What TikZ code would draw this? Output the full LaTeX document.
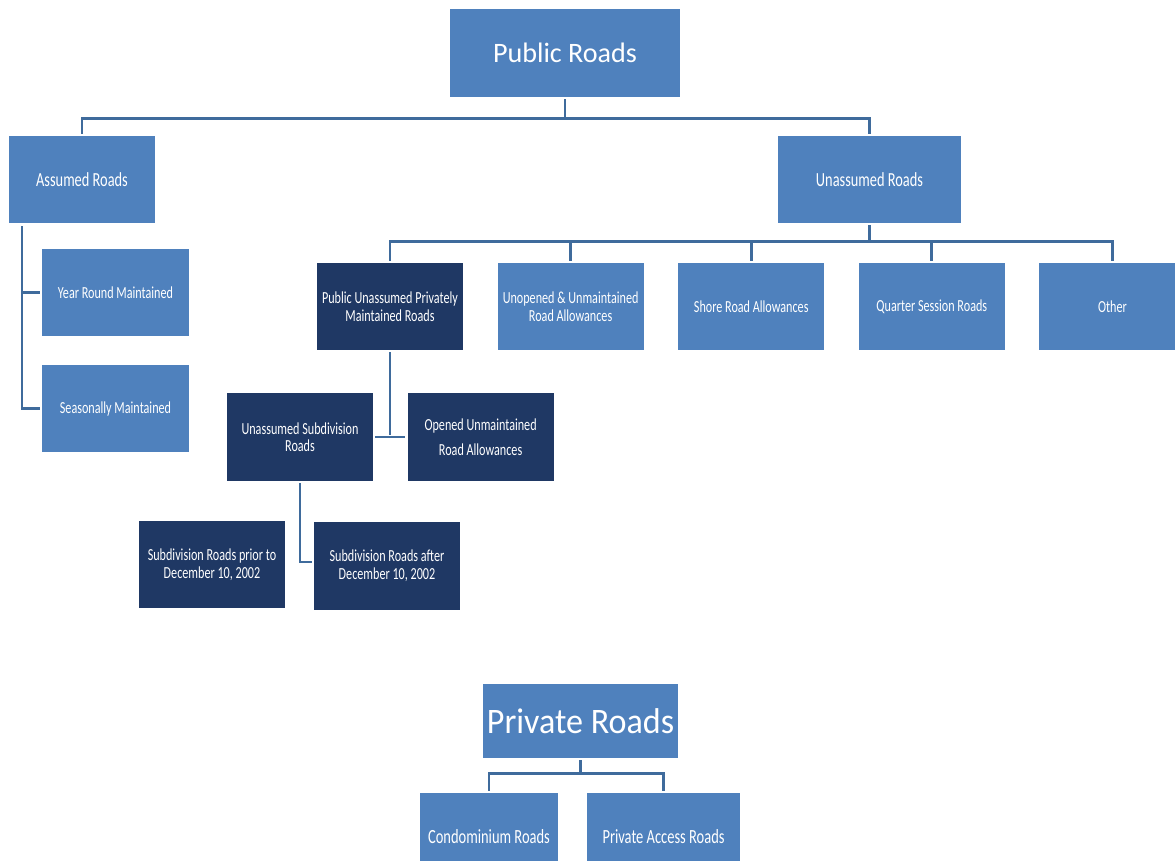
\documentclass[tikz,border=0pt]{standalone}
\usepackage{fontspec}
\setmainfont{Carlito}
\newfontfamily\condfont{Carlito}[FakeStretch=0.72]
\newfontfamily\semifont{Carlito}[FakeStretch=0.95]
\usetikzlibrary{positioning}
\definecolor{roadblue}{HTML}{4F81BD}
\definecolor{roaddark}{HTML}{1F3864}
\definecolor{roadline}{HTML}{3F6B9C}
\tikzset{
  box/.style   = {fill=roadblue, text=white, inner sep=2pt,
                  minimum width=3.65cm, minimum height=2.175cm,
                  align=center, font=\condfont\fontsize{12}{12.5}\selectfont},
  dbox/.style  = {box, fill=roaddark},
  head/.style  = {box, font=\fontsize{20}{24}\selectfont},
  mbox/.style  = {box, font=\condfont\fontsize{14.2}{15}\selectfont},
  pbox/.style  = {box, font=\condfont\fontsize{14.3}{15}\selectfont},
  conn/.style  = {draw=roadline, line width=2pt,
                  shorten <=1.5pt, shorten >=1.5pt},
}

\begin{document}
\begin{tikzpicture}[x=0.025cm, y=-0.025cm]

  \useasboundingbox (0,0) rectangle (1175,860);
  \fill[white] (0,0) rectangle (1175,860);
  \clip (0,0) rectangle (1175,860);

  % --- public roads ---
  \node[head, minimum width=5.75cm, minimum height=2.2cm] (pub) at (565,53) {Public Roads};
  \node[mbox] (asm) at (82,179.5) {Assumed Roads};
  \node[mbox, minimum width=4.575cm] (unasm) at (869.5,179.5) {Unassumed Roads};

  % --- assumed children ---
  \node[box, minimum width=3.675cm] (year) at (115.5,292.5) {Year Round Maintained};
  \node[box, minimum width=3.675cm] (seas) at (115.5,408.5) {Seasonally Maintained};

  % --- unassumed children (one row) ---
  \node[dbox] (pupm) at (390,306.5) {Public Unassumed Privately\\Maintained Roads};
  \node[box, right=0.85cm of pupm] (unop) {Unopened \& Unmaintained\\Road Allowances};
  \node[box, right=0.85cm of unop] (shore) {Shore Road Allowances};
  \node[box, right=0.85cm of shore] (quart) {Quarter Session Roads};
  \node[box, right=0.85cm of quart] (other) {Other};

  % --- privately maintained branch ---
  \node[dbox, minimum height=2.2cm] (usr) at (300,437) {Unassumed Subdivision\\Roads};
  \node[dbox, minimum height=2.2cm, right=0.85cm of usr] (ous) {Opened Unmaintained\\[5pt]Road Allowances};
  \node[dbox] (prior) at (212,564.5) {Subdivision Roads prior to\\December 10, 2002};
  \node[dbox] (after) at (387,566) {Subdivision Roads after\\December 10, 2002};

  % --- private roads ---
  \node[head, font=\semifont\fontsize{25.5}{28}\selectfont, minimum width=4.875cm, minimum height=1.85cm] (priv) at (580.5,721) {Private Roads};
  \node[pbox, minimum width=3.45cm] (condo) at (489,836.5) {Condominium Roads};
  \node[pbox, minimum width=3.825cm] (pacc) at (663.5,836.5) {Private Access Roads};

  % --- connectors ---
  \draw[conn] (pub.south) -- ++(0,21) -| (asm.north);
  \draw[conn] (pub.south) -- ++(0,21) -| (unasm.north);
  \coordinate (asmtrunk) at (22,224);
  \draw[conn] (asmtrunk) |- (year.west);
  \draw[conn] (asmtrunk) |- (seas.west);
  \foreach \c in {pupm, unop, shore, quart, other}
    \draw[conn] (unasm.south) -- ++(0,18) -| (\c.north);
  \draw[conn] (pupm.south) -- (pupm.south |- usr.east);
  \draw[conn] (usr.east) -- (ous.west);
  \draw[conn] (usr.south) |- ([yshift=0.1cm]after.west);
  \draw[conn] (priv.south) -- ++(0,15) -| (condo.north);
  \draw[conn] (priv.south) -- ++(0,15) -| (pacc.north);

\end{tikzpicture}
\end{document}
